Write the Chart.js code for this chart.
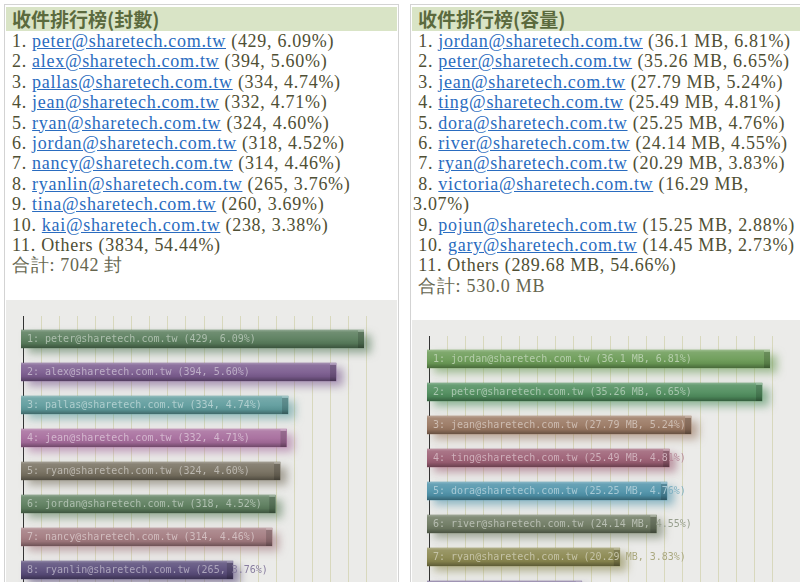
<!DOCTYPE html>
<html>
<head>
<meta charset="utf-8">
<script src="https://cdn.jsdelivr.net/npm/chart.js@4/dist/chart.umd.min.js"></script>
<style>
  html, body { margin: 0; padding: 0; background: #fff; width: 800px; height: 582px; overflow: hidden; }
  .panel { position: absolute; top: 4px; height: 700px; border: 1px solid #d3d3d3; background: #fff; }
  #pLeft { left: 4px; width: 393px; }
  #pRight { left: 410px; width: 400px; }
  .head { position: absolute; top: 2px; left: 1px; right: 1px; height: 24px; background: #d9e4c6;
          color: #5b6a3e; font: bold 19px 'Noto Sans CJK TC'; line-height: 24px; padding-left: 6px; }
  .list { position: absolute; top: 26px; font: 18px 'Liberation Serif'; line-height: 20.4px;
          color: #4f4f34; letter-spacing: 0.7px; white-space: nowrap; }
  #listLeft { left: 7px; }
  #listRight { left: 2px; }
  .list a { color: #2a6cc0; text-decoration: underline; }
  .total { color: #66664f; }
  .plot { position: absolute; left: 1px; background: #ebebe9; height: 400px; }
  #plotLeft { top: 295px; width: 391px; }
  #plotRight { top: 315px; width: 398px; }
  canvas { display: block; }
</style>
</head>
<body>
<div class="panel" id="pLeft">
  <div class="head">收件排行榜(封數)</div>
  <div class="list" id="listLeft"></div>
  <div class="plot" id="plotLeft"><canvas id="chartLeft" width="391" height="363"></canvas></div>
</div>
<div class="panel" id="pRight">
  <div class="head">收件排行榜(容量)</div>
  <div class="list" id="listRight"></div>
  <div class="plot" id="plotRight"><canvas id="chartRight" width="388" height="363"></canvas></div>
</div>

<script>
// mail count ranking
const countUsers = ['peter', 'alex', 'pallas', 'jean', 'ryan', 'jordan', 'nancy', 'ryanlin', 'tina', 'kai'];
const countValues = [429, 394, 334, 332, 324, 318, 314, 265, 260, 238];
const countPercents = [6.09, 5.60, 4.74, 4.71, 4.60, 4.52, 4.46, 3.76, 3.69, 3.38];
const countOthers = 3834;
const countOthersPercent = 54.44;
const countTotal = 7042;

// mail size ranking (MB)
const sizeUsers = ['jordan', 'peter', 'jean', 'ting', 'dora', 'river', 'ryan', 'victoria', 'pojun', 'gary'];
const sizeValues = [36.1, 35.26, 27.79, 25.49, 25.25, 24.14, 20.29, 16.29, 15.25, 14.45];
const sizePercents = [6.81, 6.65, 5.24, 4.81, 4.76, 4.55, 3.83, 3.07, 2.88, 2.73];
const sizeOthers = 289.68;
const sizeOthersPercent = 54.66;
const sizeTotal = '530.0';

const domain = '@sharetech.com.tw';

const countColors = ['#587c5b', '#7b5c8f', '#5f9c9d', '#a66c9c', '#766f5f', '#5d7e5e', '#a27a7f', '#584b79', '#6a7f9a', '#8a6a5a'];
const sizeColors = ['#6b9b56', '#4f8d5d', '#9a7862', '#9c5f74', '#4f93aa', '#6e7a62', '#8a874f', '#7a6a96', '#5f8f8a', '#a0786a'];

// --- text lists ---
let html = '';
countUsers.forEach((u, i) => {
  html += `<div>${i + 1}. <a href="#">${u}${domain}</a> (${countValues[i]}, ${countPercents[i].toFixed(2)}%)</div>`;
});
html += `<div>11. Others (${countOthers}, ${countOthersPercent.toFixed(2)}%)</div>`;
html += `<div class="total">合計: ${countTotal} 封</div>`;
document.getElementById('listLeft').innerHTML = html;

const wrapAt = 7;
html = '';
sizeUsers.forEach((u, i) => {
  const tail = `(${sizeValues[i]} MB,${i === wrapAt ? '<br>' : ' '}${sizePercents[i].toFixed(2)}%)`;
  html += `<div>&nbsp;${i + 1}. <a href="#">${u}${domain}</a> ${tail}</div>`;
});
html += `<div>&nbsp;11. Others (${sizeOthers} MB, ${sizeOthersPercent.toFixed(2)}%)</div>`;
html += `<div class="total">&nbsp;合計: ${sizeTotal} MB</div>`;
document.getElementById('listRight').innerHTML = html;

// --- bar drawing helpers ---
function rgbOf(hex) {
  const n = parseInt(hex.slice(1), 16);
  return [n >> 16, (n >> 8) & 255, n & 255];
}
function tint(hex, t) {
  const c = rgbOf(hex).map(v => Math.round(v + (255 - v) * t));
  return `rgb(${c[0]},${c[1]},${c[2]})`;
}
function alpha(hex, a) {
  const c = rgbOf(hex);
  return `rgba(${c[0]},${c[1]},${c[2]},${a})`;
}

const gridSteps = 19;

const barDeco = {
  id: 'barDeco',
  beforeDatasetsDraw(chart) {
    const ctx = chart.ctx;
    const x = chart.scales.x;
    ctx.save();
    ctx.lineWidth = 1;
    for (let i = 0; i <= gridSteps; i++) {
      const px = Math.round(x.getPixelForValue(x.max * i / gridSteps)) + 2.5;
      ctx.strokeStyle = i === 0 ? '#333333' : '#d8d8bd';
      ctx.beginPath();
      ctx.moveTo(px, 16);
      ctx.lineTo(px, chart.height);
      ctx.stroke();
    }
    const colors = chart.data.datasets[0].backgroundColor;
    chart.getDatasetMeta(0).data.forEach((el, i) => {
      const p = el.getProps(['x', 'y', 'base', 'height'], true);
      ctx.save();
      ctx.shadowColor = alpha(colors[i], 0.6);
      ctx.shadowBlur = 9;
      ctx.shadowOffsetX = 7;
      ctx.shadowOffsetY = 5;
      ctx.fillStyle = colors[i];
      ctx.fillRect(p.base, p.y - p.height / 2, p.x - p.base, p.height);
      ctx.restore();
    });
    ctx.restore();
  },
  afterDatasetsDraw(chart, args, opts) {
    const ctx = chart.ctx;
    const colors = chart.data.datasets[0].backgroundColor;
    chart.getDatasetMeta(0).data.forEach((el, i) => {
      const p = el.getProps(['x', 'y', 'base', 'height'], true);
      const top = p.y - p.height / 2, w = p.x - p.base, h = p.height;
      ctx.save();
      const g = ctx.createLinearGradient(0, top, 0, top + h);
      g.addColorStop(0, 'rgba(255,255,255,0.32)');
      g.addColorStop(0.12, 'rgba(255,255,255,0.14)');
      g.addColorStop(0.5, 'rgba(255,255,255,0.05)');
      g.addColorStop(0.75, 'rgba(0,0,0,0.06)');
      g.addColorStop(1, 'rgba(0,0,0,0.32)');
      ctx.fillStyle = g;
      ctx.fillRect(p.base, top, w, h);
      // right end cap
      ctx.fillStyle = 'rgba(0,0,0,0.16)';
      ctx.fillRect(p.x - 6, top + 2, 6, h - 2);
      ctx.fillStyle = 'rgba(255,255,255,0.18)';
      ctx.fillRect(p.x - 6, top, 6, 2);
      // label: light inside the bar, softer outside
      const txt = opts.texts[i];
      ctx.font = '10px "DejaVu Sans Mono"';
      ctx.textBaseline = 'middle';
      const tx = p.base + 6, ty = p.y + 0.5;
      ctx.save();
      ctx.beginPath();
      ctx.rect(p.base, top, w, h);
      ctx.clip();
      ctx.fillStyle = tint(colors[i], 0.5);
      ctx.fillText(txt, tx, ty);
      ctx.restore();
      ctx.save();
      ctx.beginPath();
      ctx.rect(p.x, top - 2, chart.width, h + 4);
      ctx.clip();
      ctx.fillStyle = tint(colors[i], 0.28);
      ctx.fillText(txt, tx, ty);
      ctx.restore();
      ctx.restore();
    });
  }
};

function drawRanking(canvasId, users, values, colors, texts) {
  const canvas = document.getElementById(canvasId);
  const plotWidth = 343;
  new Chart(canvas.getContext('2d'), {
    type: 'bar',
    data: {
      labels: users.map(u => u + domain),
      datasets: [{
        data: values,
        backgroundColor: colors,
        borderWidth: 0,
        barThickness: 18
      }]
    },
    options: {
      indexAxis: 'y',
      responsive: false,
      animation: false,
      events: [],
      layout: { padding: { left: 15, right: canvas.width - 15 - plotWidth, top: 22.5, bottom: 10.5 } },
      scales: {
        x: { display: false, min: 0, max: Math.max(...values) },
        y: { display: false }
      },
      plugins: {
        legend: { display: false },
        tooltip: { enabled: false },
        barDeco: { texts }
      }
    },
    plugins: [barDeco]
  });
}

drawRanking('chartLeft', countUsers, countValues, countColors,
  countUsers.map((u, i) => `${i + 1}: ${u}${domain} (${countValues[i]}, ${countPercents[i].toFixed(2)}%)`));
drawRanking('chartRight', sizeUsers, sizeValues, sizeColors,
  sizeUsers.map((u, i) => `${i + 1}: ${u}${domain} (${sizeValues[i]} MB, ${sizePercents[i].toFixed(2)}%)`));
</script>
</body>
</html>
